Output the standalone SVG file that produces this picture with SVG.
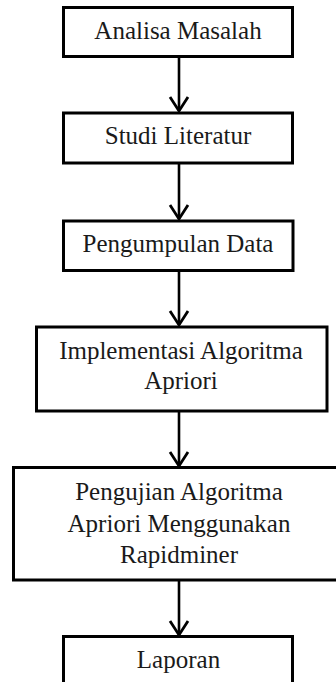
<svg xmlns="http://www.w3.org/2000/svg" width="336" height="682" viewBox="0 0 336 682">
  <style>
    .box { fill: #ffffff; stroke: #000000; stroke-width: 3; }
    .lbl { font-family: 'Times New Roman', 'Liberation Serif', 'DejaVu Serif', Times, serif; font-size: 25px; fill: #1a1a1a; text-anchor: middle; }
    .edge { stroke: #000000; stroke-width: 2.6; fill: none; marker-end: url(#vhead); }
  </style>
  <defs>
    <marker id="vhead" markerUnits="userSpaceOnUse" orient="auto" refX="0" refY="0" markerWidth="20" markerHeight="20" overflow="visible">
      <path d="M-14,-9 L0,0 L-14,9" fill="none" stroke="#000000" stroke-width="2.8" stroke-linejoin="miter"/>
    </marker>
  </defs>
  <rect width="336" height="682" fill="#ffffff"/>

  <g id="connectors">
    <line class="edge" x1="179" y1="57" x2="179" y2="111"/>
    <line class="edge" x1="179" y1="163" x2="179" y2="219"/>
    <line class="edge" x1="179" y1="271" x2="179" y2="325"/>
    <line class="edge" x1="179" y1="411" x2="179" y2="466"/>
    <line class="edge" x1="179" y1="580" x2="179" y2="635"/>
  </g>

  <g id="analisa-masalah">
    <rect class="box" x="63.5" y="7.5" width="229" height="49"/>
    <text class="lbl" x="178" y="38.5">Analisa Masalah</text>
  </g>

  <g id="studi-literatur">
    <rect class="box" x="63.5" y="113" width="229" height="50"/>
    <text class="lbl" x="178" y="144">Studi Literatur</text>
  </g>

  <g id="pengumpulan-data">
    <rect class="box" x="63.5" y="221" width="229.5" height="49.5"/>
    <text class="lbl" x="178" y="251.5">Pengumpulan Data</text>
  </g>

  <g id="implementasi-apriori">
    <rect class="box" x="36.5" y="327" width="290.5" height="84"/>
    <text class="lbl" x="181" y="359">Implementasi Algoritma</text>
    <text class="lbl" x="181" y="389">Apriori</text>
  </g>

  <g id="pengujian-rapidminer">
    <rect class="box" x="13.5" y="467.5" width="331" height="112.5"/>
    <text class="lbl" x="179" y="500">Pengujian Algoritma</text>
    <text class="lbl" x="179" y="531.5">Apriori Menggunakan</text>
    <text class="lbl" x="179" y="563">Rapidminer</text>
  </g>

  <g id="laporan">
    <rect class="box" x="63.5" y="636.5" width="229" height="60"/>
    <text class="lbl" x="178.5" y="668">Laporan</text>
  </g>
</svg>
